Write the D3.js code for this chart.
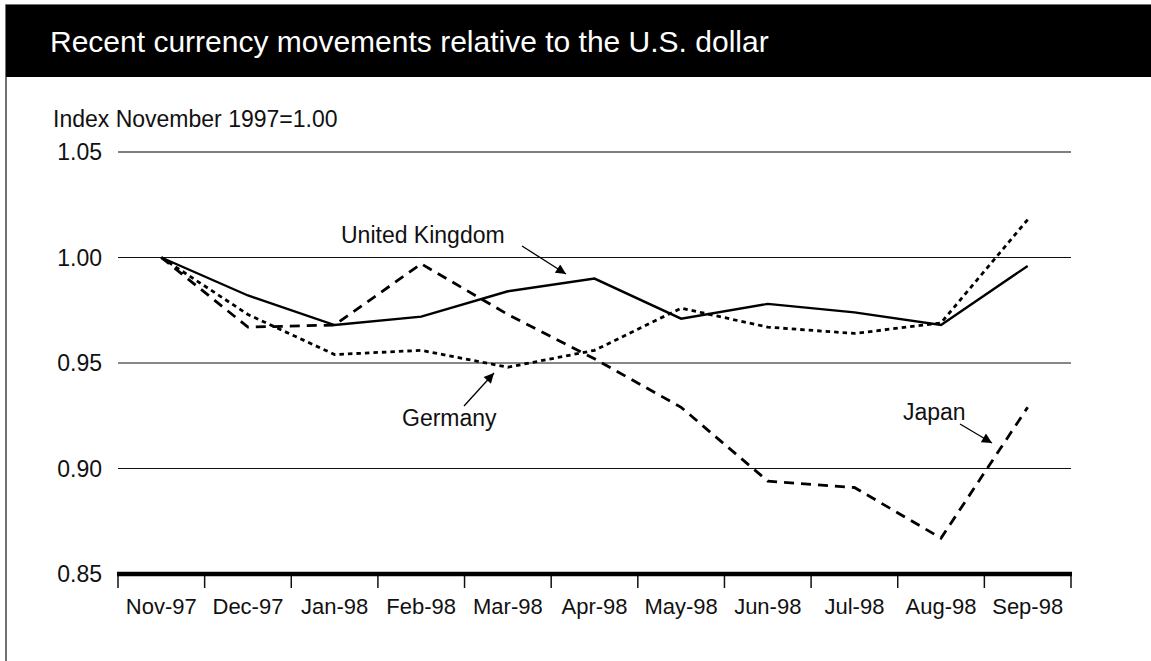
<!DOCTYPE html>
<html><head><meta charset="utf-8">
<script src="https://cdn.jsdelivr.net/npm/d3@7"></script>
<style>html,body{margin:0;padding:0;background:#fff;}svg{display:block;}</style>
</head><body>
<svg id="chart" width="1151" height="661"></svg>
<script>
const months = ["Nov-97","Dec-97","Jan-98","Feb-98","Mar-98","Apr-98","May-98","Jun-98","Jul-98","Aug-98","Sep-98"];
const unitedKingdom = [1.000, 0.982, 0.968, 0.972, 0.984, 0.990, 0.971, 0.978, 0.974, 0.968, 0.996];
const germany = [1.000, 0.973, 0.954, 0.956, 0.948, 0.956, 0.976, 0.967, 0.964, 0.969, 1.018];
const japan = [1.000, 0.967, 0.968, 0.997, 0.973, 0.952, 0.929, 0.894, 0.891, 0.867, 0.929];
const yTicks = [0.85, 0.90, 0.95, 1.00, 1.05];
const title = "Recent currency movements relative to the U.S. dollar";
const yAxisTitle = "Index November 1997=1.00";

const svg = d3.select("#chart");
const font = "'Liberation Sans', Arial, Helvetica, sans-serif";

// frame + header
svg.append("rect").attr("x",6).attr("y",5).attr("width",1160).attr("height",680)
  .attr("fill","none").attr("stroke","#444").attr("stroke-width",1.5);
svg.append("rect").attr("x",6).attr("y",5).attr("width",1150).attr("height",72).attr("fill","#000");
svg.append("text").attr("x",50).attr("y",52).attr("fill","#fff")
  .attr("font-family",font).attr("font-size",30).text(title);

const x = d3.scaleBand().domain(months).range([118,1071]).padding(0);
const y = d3.scaleLinear().domain([0.85,1.05]).range([574,152]);

// gridlines
svg.append("g").selectAll("line").data(yTicks.filter(d=>d>0.85)).join("line")
  .attr("x1",118).attr("x2",1071).attr("y1",d=>y(d)).attr("y2",d=>y(d))
  .attr("stroke",d=>d===1.05?"#555":"#111").attr("stroke-width",d=>d===1.05?1.6:1.2);

// y labels
svg.append("g").selectAll("text").data(yTicks).join("text")
  .attr("x",102).attr("y",d=>y(d)).attr("dy","0.36em").attr("text-anchor","end")
  .attr("font-family",font).attr("font-size",23).attr("fill","#111")
  .text(d=>d3.format(".2f")(d));
svg.append("text").attr("x",53).attr("y",127).attr("font-family",font).attr("font-size",23)
  .attr("fill","#111").text(yAxisTitle);

// x axis
const xAxis = svg.append("g").attr("transform","translate(0,574)")
  .call(d3.axisBottom(x).tickSize(0).tickPadding(24));
xAxis.select(".domain").remove();
xAxis.selectAll("text").attr("font-family",font).attr("font-size",22).attr("fill","#111");
const bounds = months.map(m=>x(m)).concat([x.range()[1]]);
svg.append("g").selectAll("line").data(bounds).join("line")
  .attr("x1",d=>d).attr("x2",d=>d).attr("y1",574).attr("y2",588)
  .attr("stroke","#111").attr("stroke-width",1.5);
svg.append("line").attr("x1",117).attr("x2",1072).attr("y1",574).attr("y2",574)
  .attr("stroke","#000").attr("stroke-width",4.5);

// series
const line = d3.line().x((d,i)=>x(months[i])+x.bandwidth()/2).y(d=>y(d));
const series = [
  {vals: japan, dash:"10,7", w:2.8},
  {vals: germany, dash:"4.5,4", w:2.8},
  {vals: unitedKingdom, dash:null, w:2.4}
];
svg.append("g").selectAll("path").data(series).join("path")
  .attr("d",d=>line(d.vals)).attr("fill","none").attr("stroke","#000")
  .attr("stroke-width",d=>d.w).attr("stroke-dasharray",d=>d.dash)
  .attr("stroke-linejoin","miter");

// annotations
svg.append("defs").append("marker").attr("id","arr").attr("viewBox","0 0 10 10")
  .attr("refX",10).attr("refY",5).attr("markerWidth",12).attr("markerHeight",10)
  .attr("markerUnits","userSpaceOnUse").attr("orient","auto")
  .append("path").attr("d","M0,0 L10,5 L0,10 Z").attr("fill","#000");
const notes = [
  {t:"United Kingdom", tx:341, ty:243, x1:522, y1:246, x2:566, y2:274},
  {t:"Germany", tx:402, ty:426, x1:464, y1:406, x2:494, y2:373},
  {t:"Japan", tx:903, ty:420, x1:960, y1:424, x2:992, y2:443}
];
svg.append("g").selectAll("text").data(notes).join("text")
  .attr("x",d=>d.tx).attr("y",d=>d.ty).attr("font-family",font).attr("font-size",23)
  .attr("fill","#111").text(d=>d.t);
svg.append("g").selectAll("line").data(notes).join("line")
  .attr("x1",d=>d.x1).attr("y1",d=>d.y1).attr("x2",d=>d.x2).attr("y2",d=>d.y2)
  .attr("stroke","#000").attr("stroke-width",1.3).attr("marker-end","url(#arr)");
</script>
</body></html>
